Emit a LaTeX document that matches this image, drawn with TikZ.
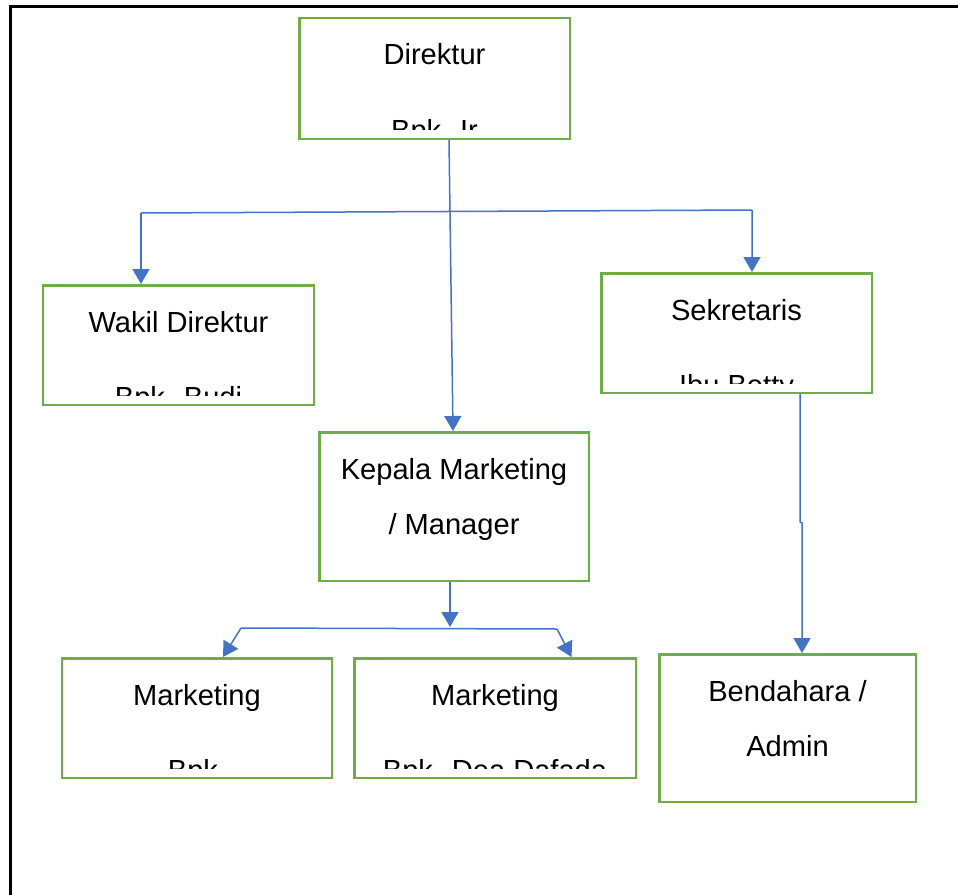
\documentclass[tikz,border=0pt]{standalone}
\usepackage{fontspec}
\setmainfont{Liberation Sans}
\usetikzlibrary{arrows.meta,calc}
\definecolor{boxgreen}{HTML}{70AD47}
\definecolor{linkblue}{HTML}{4472C4}

\begin{document}
\begin{tikzpicture}[x=1bp,y=-1bp,
  orgbox/.style={draw=boxgreen, line width=2.5bp, inner sep=0pt, fill=white},
  txt/.style={anchor=base, inner sep=0pt, font=\fontsize{29.2}{34}\selectfont},
  link/.style={draw=linkblue, line width=1.5bp},
  conn/.style={link, -{Triangle[width=17bp,length=15bp]}},
  frame/.style={draw=black, line width=3bp},
]
\useasboundingbox (0,0) rectangle (958,895);

% page frame (top and left edges)
\draw[frame] (10,895) -- (10,6.5) -- (958,6.5);

% boxes
\node[orgbox, minimum width=270.5bp, minimum height=120.5bp] (dir)  at (434.5,78.5) {};
\node[orgbox, minimum width=270.5bp, minimum height=119.5bp] (wak)  at (178.5,345)  {};
\node[orgbox, minimum width=270.5bp, minimum height=119.5bp] (sek)  at (736.5,333)  {};
\node[orgbox, minimum width=269.5bp, minimum height=148.5bp] (kep)  at (454,506.5)  {};
\node[orgbox, minimum width=269.5bp, minimum height=119.5bp] (mk1)  at (197,718)    {};
\node[orgbox, minimum width=281.5bp, minimum height=119.5bp] (mk2)  at (495,718)    {};
\node[orgbox, minimum width=256.5bp, minimum height=147.5bp] (bend) at (787.5,728)  {};

% box texts (second lines are cut off by the box's text area)
\begin{scope}
  \clip ($(dir.north west)+(2,2)$) rectangle ($(dir.south east)+(-2,-10.25)$);
  \node[txt] (dirA) at ($(dir.north)+(0,48)$) {Direktur};
  \node[txt] (dirB) at ($(dir.north)+(0,123.5)$) {Bpk. Ir};
\end{scope}
\begin{scope}
  \clip ($(wak.north west)+(2,2)$) rectangle ($(wak.south east)+(-2,-10.25)$);
  \node[txt] (wakA) at ($(wak.north)+(0,48)$) {Wakil Direktur};
  \node[txt] (wakB) at ($(wak.north)+(0,123.5)$) {Bpk. Budi};
\end{scope}
\begin{scope}
  \clip ($(sek.north west)+(2,2)$) rectangle ($(sek.south east)+(-2,-10.25)$);
  \node[txt] (sekA) at ($(sek.north)+(0,48)$) {Sekretaris};
  \node[txt] (sekB) at ($(sek.north)+(0,123.5)$) {Ibu Betty};
\end{scope}
\node[txt] (kepA) at ($(kep.north)+(0,48)$) {Kepala Marketing};
\node[txt] (kepB) at ($(kep.north)+(0,103.5)$) {/ Manager};
\begin{scope}
  \clip ($(mk1.north west)+(2,2)$) rectangle ($(mk1.south east)+(-2,-10.25)$);
  \node[txt] (mk1A) at ($(mk1.north)+(0,48)$) {Marketing};
  \node[txt] (mk1B) at ($(mk1.north)+(0,123.5)$) {Bpk.};
\end{scope}
\begin{scope}
  \clip ($(mk2.north west)+(2,2)$) rectangle ($(mk2.south east)+(-2,-10.25)$);
  \node[txt] (mk2A) at ($(mk2.north)+(0,48)$) {Marketing};
  \node[txt] (mk2B) at ($(mk2.north)+(0,123.5)$) {Bpk. Dea Dafada};
\end{scope}
\node[txt] (bendA) at ($(bend.north)+(0,48)$) {Bendahara /};
\node[txt] (bendB) at ($(bend.north)+(0,103)$) {Admin};

% junction points
\coordinate (jL) at (141,213);
\coordinate (jR) at (752,210);
\coordinate (jM) at (450,627);
\coordinate (jML) at (241,628);
\coordinate (jMR) at (557,629);

% Direktur to Kepala Marketing, with the branch to Wakil and Sekretaris
\draw[conn] ($(dir.south)+(14.5,0)$) -- ($(kep.north)+(-1,0)$);
\draw[link] (jL) -- (jR);
\draw[conn] (jL) -- ($(wak.north)+(-37.5,0)$);
\draw[conn] (jR) -- ($(sek.north)+(15.5,0)$);

% Sekretaris to Bendahara
\draw[conn] ($(sek.south)+(63.5,0)$) -- ++(0,128) -- ++(2,1) -- ($(bend.north)+(14.5,0)$);

% Kepala Marketing to both Marketing boxes
\draw[conn] ($(kep.south)+(-4,0)$) -- (jM);
\draw[link] (jML) -- (jMR);
\draw[conn] (jML) -- ($(mk1.north)+(26,0)$);
\draw[conn] (jMR) -- ($(mk2.north)+(76.5,0)$);
\end{tikzpicture}
\end{document}
